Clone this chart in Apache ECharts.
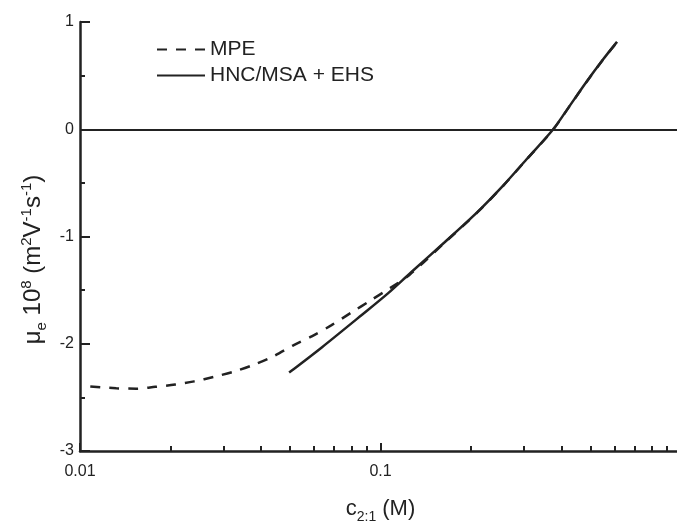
<!DOCTYPE html>
<html>
<head>
<meta charset="utf-8">
<script src="https://cdn.jsdelivr.net/npm/echarts@6/dist/echarts.min.js"></script>
<style>
html,body{margin:0;padding:0;background:#fff;}
#chart{width:677px;height:522px;}
</style>
</head>
<body>
<div id="chart"></div>
<script>
// ---- data ----
var mpeC  = [0.01082, 0.0132, 0.01539, 0.0178, 0.02074, 0.02399, 0.02795, 0.03257, 0.03793, 0.04418, 0.05146, 0.05903, 0.06874, 0.07997, 0.09249, 0.1076, 0.1253, 0.1631, 0.21, 0.2568, 0.3063, 0.375, 0.4249, 0.4822, 0.5468, 0.6123];
var mpeMu = [-2.398, -2.415, -2.419, -2.402, -2.381, -2.351, -2.308, -2.259, -2.195, -2.115, -2.012, -1.931, -1.826, -1.709, -1.598, -1.481, -1.354, -1.060, -0.776, -0.523, -0.282, -0.005, 0.211, 0.432, 0.639, 0.812];
var hncC  = [0.04965, 0.06391, 0.08661, 0.1061, 0.1265, 0.1631, 0.21, 0.2568, 0.3063, 0.375, 0.4249, 0.4822, 0.5468, 0.6123];
var hncMu = [-2.269, -2.032, -1.732, -1.528, -1.333, -1.056, -0.773, -0.521, -0.280, -0.003, 0.213, 0.434, 0.641, 0.815];
var seriesNames = ['MPE', 'HNC/MSA + EHS'];
var xTickLabels = ['0.01', '0.1', '1'];
var yTickLabels = ['-3', '-2', '-1', '0', '1'];
var xMinorTicks = [0.02,0.03,0.04,0.05,0.06,0.07,0.08,0.09,0.2,0.3,0.4,0.5,0.6,0.7,0.8,0.9];

function pairs(xs, ys){ return xs.map(function(x,i){ return [x, ys[i]]; }); }

var FONT = 'Liberation Sans, Arial, sans-serif';
var INK = '#222';

var chart = echarts.init(document.getElementById('chart'), null, {renderer:'canvas'});
chart.setOption({
  animation: false,
  backgroundColor: '#fff',
  grid: {left: 80, top: 22, width: 601, height: 429, containLabel: false, outerBoundsMode: 'none'},
  legend: {
    data: seriesNames,
    orient: 'vertical',
    left: 156, top: 39, padding: 0,
    itemWidth: 48, itemHeight: 14, itemGap: 5,
    itemStyle: {opacity: 0},
    textStyle: {fontSize: 21, color: INK, fontFamily: FONT}
  },
  xAxis: [{
    type: 'log', logBase: 10, min: 0.01, max: 1,
    axisLine: {show: true, onZero: false, lineStyle: {color: INK, width: 2.5}},
    axisTick: {show: true, inside: true, length: 8, lineStyle: {color: INK, width: 2}},
    splitLine: {show: false},
    axisLabel: {margin: 13, fontSize: 16, color: INK, fontFamily: FONT,
      formatter: function(v){ var i = Math.round(Math.log10(v)) + 2; return xTickLabels[i] || ''; }},
    name: '{n|c}{sub|2:1}{n| (M)}',
    nameLocation: 'middle', nameGap: 43,
    nameTextStyle: {
      rich: {
        n: {fontSize: 22, color: INK, fontFamily: FONT, lineHeight: 30, verticalAlign: 'middle'},
        sub: {fontSize: 14, color: INK, fontFamily: FONT, lineHeight: 14, verticalAlign: 'bottom'}
      }
    }
  }, {
    type: 'value', min: -2, max: 0, position: 'bottom',
    axisLine: {show: false, onZero: false},
    axisLabel: {show: false},
    splitLine: {show: false},
    axisTick: {show: true, inside: true, length: 5, lineStyle: {color: INK, width: 2},
      customValues: xMinorTicks.map(function(v){ return Math.log10(v); })}
  }],
  yAxis: {
    type: 'value', min: -3, max: 1, interval: 1,
    axisLine: {show: true, onZero: false, lineStyle: {color: INK, width: 2.5}},
    axisTick: {show: true, inside: true, length: 10, lineStyle: {color: INK, width: 2}},
    minorTick: {show: true, splitNumber: 2, length: 5, lineStyle: {color: INK, width: 2}},
    splitLine: {show: false},
    minorSplitLine: {show: false},
    axisLabel: {margin: 6, fontSize: 16, color: INK, fontFamily: FONT,
      formatter: function(v){ return yTickLabels[Math.round(v) + 3]; }},
    name: '{mu|μ}{sub|e}{n| 10}{sup|8}{n| (m}{sup|2}{n|V}{sup|-1}{n|s}{sup|-1}{n|)}',
    nameLocation: 'middle', nameGap: 31,
    nameTextStyle: {
      padding: [0, 46, 0, 0],
      rich: {
        mu: {fontSize: 24, color: INK, fontFamily: FONT, lineHeight: 30, verticalAlign: 'middle'},
        n: {fontSize: 24, color: INK, fontFamily: FONT, lineHeight: 30, verticalAlign: 'middle'},
        sup: {fontSize: 15, color: INK, fontFamily: FONT, lineHeight: 15, verticalAlign: 'top'},
        sub: {fontSize: 15, color: INK, fontFamily: FONT, lineHeight: 15, verticalAlign: 'bottom'}
      }
    }
  },
  series: [{
    name: seriesNames[0], type: 'line', xAxisIndex: 0, yAxisIndex: 0,
    data: pairs(mpeC, mpeMu), symbol: 'none', smooth: 0.3,
    lineStyle: {color: INK, width: 2.5, type: [10, 9]},
    itemStyle: {color: INK}
  }, {
    name: seriesNames[1], type: 'line', xAxisIndex: 0, yAxisIndex: 0,
    data: pairs(hncC, hncMu), symbol: 'none', smooth: 0.3,
    lineStyle: {color: INK, width: 2.5, type: 'solid'},
    itemStyle: {color: INK},
    markLine: {
      silent: true, symbol: ['none', 'none'],
      label: {show: false},
      lineStyle: {color: INK, width: 2, type: 'solid'},
      data: [{yAxis: 0}]
    }
  }]
});
</script>
</body>
</html>
